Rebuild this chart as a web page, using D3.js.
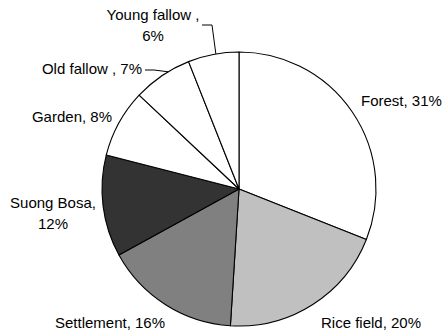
<!DOCTYPE html>
<html>
<head>
<meta charset="utf-8">
<script src="https://cdn.jsdelivr.net/npm/d3@7"></script>
<style>
  html, body { margin: 0; padding: 0; background: #fff; }
  svg { display: block; }
  text { font-family: "Liberation Sans", Arial, sans-serif; font-size: 15px; fill: #000; }
</style>
</head>
<body>
<svg id="chart" width="444" height="333"></svg>
<script>
// Land use shares (%), clockwise from 12 o'clock
const categories = ["Forest", "Rice field", "Settlement", "Suong Bosa", "Garden", "Old fallow", "Young fallow"];
const shares = [31, 20, 16, 12, 8, 7, 6];
const fills = ["#ffffff", "#c0c0c0", "#808080", "#333333", "#ffffff", "#ffffff", "#ffffff"];

// Label text lines and placement for each slice
const labelLines = [
  ["Forest, 31%"],
  ["Rice field, 20%"],
  ["Settlement, 16%"],
  ["Suong Bosa,", "12%"],
  ["Garden, 8%"],
  ["Old fallow , 7%"],
  ["Young fallow ,", "6%"]
];
const labelPos = [
  { x: 361, y: 106, anchor: "start" },
  { x: 321, y: 328, anchor: "start" },
  { x: 110, y: 328, anchor: "middle" },
  { x: 53,  y: 208, anchor: "middle" },
  { x: 112, y: 122, anchor: "end" },
  { x: 142, y: 74,  anchor: "end" },
  { x: 153, y: 20,  anchor: "middle" }
];

const cx = 239, cy = 189, r = 137;
const svg = d3.select("#chart");
const g = svg.append("g").attr("transform", `translate(${cx},${cy})`);

const pie = d3.pie().sort(null).value(d => d.value).startAngle(0).endAngle(2 * Math.PI);
const arcs = pie(categories.map((c, i) => ({ name: c, value: shares[i], fill: fills[i] })));
const arc = d3.arc().innerRadius(0).outerRadius(r);

g.selectAll("path.slice")
  .data(arcs)
  .join("path")
  .attr("class", "slice")
  .attr("d", arc)
  .attr("fill", d => d.data.fill)
  .attr("stroke", "#000")
  .attr("stroke-width", 1.1)
  .attr("stroke-linejoin", "round");

// Leader lines for the two small fallow slices
const pointOnRim = (angle) => [cx + r * Math.sin(angle), cy - r * Math.cos(angle)];
const leaders = [
  { idx: 5, from: [145, 70], elbow: [154, 70], frac: 0.62 },
  { idx: 6, from: [202, 25], elbow: [212, 25], frac: 0.55 }
];
leaders.forEach(l => {
  const a = arcs[l.idx];
  const ang = a.startAngle + (a.endAngle - a.startAngle) * l.frac;
  const p = pointOnRim(ang);
  svg.append("polyline")
    .attr("points", [l.from, l.elbow, p].map(q => q.join(",")).join(" "))
    .attr("fill", "none")
    .attr("stroke", "#000")
    .attr("stroke-width", 1);
});

// Slice labels
labelLines.forEach((lines, i) => {
  const p = labelPos[i];
  const t = svg.append("text")
    .attr("x", p.x)
    .attr("y", p.y)
    .attr("text-anchor", p.anchor);
  lines.forEach((line, k) => {
    t.append("tspan")
      .attr("x", p.x)
      .attr("dy", k === 0 ? 0 : 21)
      .text(line);
  });
});
</script>
</body>
</html>
